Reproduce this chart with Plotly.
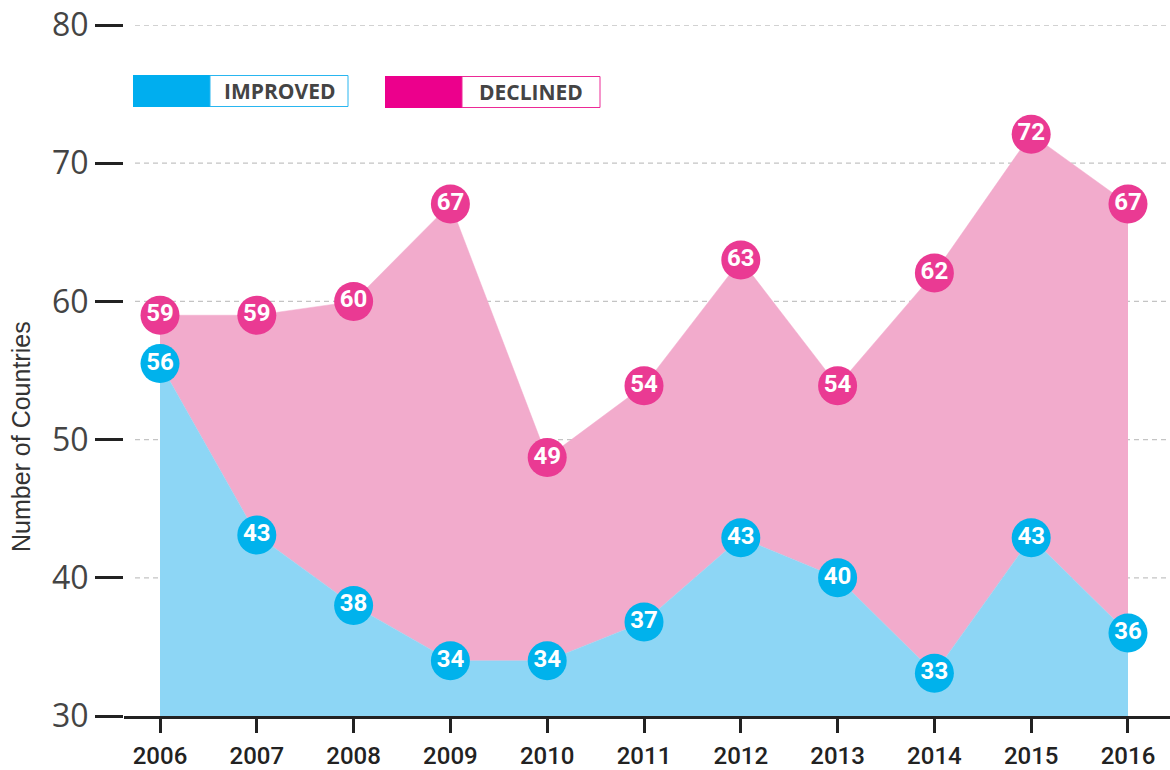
import plotly.graph_objects as go

years = [2006, 2007, 2008, 2009, 2010, 2011, 2012, 2013, 2014, 2015, 2016]
improved = [55.5, 43.1, 38, 34, 34, 36.8, 42.9, 40, 33.1, 42.9, 36]
declined = [59, 59, 60, 67.05, 48.7, 53.9, 63, 53.9, 62.06, 72.1, 67.05]
improved_labels = ["56", "43", "38", "34", "34", "37", "43", "40", "33", "43", "36"]
declined_labels = ["59", "59", "60", "67", "49", "54", "63", "54", "62", "72", "67"]
y_ticks = [30, 40, 50, 60, 70, 80]
series_names = ["IMPROVED", "DECLINED"]

W, H = 1170, 770
L, R, T, B = 124, 0, 25, 54
PW, PH = W - L - R, H - T - B


def px(x):
    return (x - L) / PW


def py(y):
    return (H - B - y) / PH


BLUE_FILL = "#8dd6f5"
PINK_FILL = "#f2abcc"
BLUE_MK = "#00b2ec"
PINK_MK = "#ea3a93"
BLUE_LEG = "#00aeef"
PINK_LEG = "#ec008c"

fig = go.Figure()
fig.add_trace(go.Scatter(x=years, y=improved, mode="lines", fill="tozeroy",
                         fillcolor=BLUE_FILL, line=dict(color=BLUE_FILL, width=0.5),
                         hoverinfo="skip", showlegend=False))
fig.add_trace(go.Scatter(x=years, y=declined, mode="lines", fill="tonexty",
                         fillcolor=PINK_FILL, line=dict(color=PINK_FILL, width=0.5),
                         hoverinfo="skip", showlegend=False))
fig.add_trace(go.Scatter(x=years, y=improved, mode="markers+text", text=improved_labels,
                         textposition="middle center",
                         textfont=dict(family="Roboto", size=24, color="white", weight="bold"),
                         marker=dict(size=39, color=BLUE_MK, line=dict(width=0)),
                         cliponaxis=False, showlegend=False, name=series_names[0]))
fig.add_trace(go.Scatter(x=years, y=declined, mode="markers+text", text=declined_labels,
                         textposition="middle center",
                         textfont=dict(family="Roboto", size=24, color="white", weight="bold"),
                         marker=dict(size=39, color=PINK_MK, line=dict(width=0)),
                         cliponaxis=False, showlegend=False, name=series_names[1]))

shapes = []
for t in y_ticks[1:]:
    shapes.append(dict(type="line", xref="paper", yref="y", x0=px(135), x1=1, y0=t, y1=t,
                       line=dict(color="#c4c4c4", width=1.3, dash="5px,4px"), layer="below"))

annotations = []
legend_items = [
    (series_names[0], 133, 210, 348, 75, 107, BLUE_LEG, "#29b6f0"),
    (series_names[1], 385, 462, 600, 76, 108, PINK_LEG, "#ec2a96"),
]
for name, xa, xb, xc, ya, yb, col, border in legend_items:
    shapes.append(dict(type="rect", xref="paper", yref="paper", x0=px(xa), x1=px(xb),
                       y0=py(yb), y1=py(ya), fillcolor=col, line=dict(width=0)))
    shapes.append(dict(type="rect", xref="paper", yref="paper", x0=px(xb), x1=px(xc),
                       y0=py(yb - 0.5), y1=py(ya + 0.5), fillcolor="white",
                       line=dict(color=border, width=1)))
    annotations.append(dict(text="<b>" + name + "</b>", xref="paper", yref="paper",
                            x=px((xb + xc) / 2), y=py((ya + yb) / 2), showarrow=False,
                            xanchor="center", yanchor="middle",
                            font=dict(family="Open Sans", size=21, color="#444444")))

annotations.append(dict(text="Number of Countries", xref="paper", yref="paper",
                        x=px(21), y=py(437), textangle=-90, showarrow=False,
                        xanchor="center", yanchor="middle",
                        font=dict(family="Liberation Sans", size=25, color="#333333")))

fig.update_layout(
    width=W, height=H,
    margin=dict(l=L, r=R, t=T, b=B, pad=0, autoexpand=False),
    plot_bgcolor="white", paper_bgcolor="white",
    shapes=shapes, annotations=annotations,
    xaxis=dict(range=[2005.628, 2016.434], tickvals=years, ticktext=[str(y) for y in years],
               showgrid=False, zeroline=False, showline=True, linecolor="#222222", linewidth=3,
               ticks="outside", ticklen=14, tickwidth=3, tickcolor="#222222", automargin=False,
               ticklabelstandoff=2,
               tickfont=dict(family="Roboto", size=24, color="#222222", weight=500)),
    yaxis=dict(range=[30, 80], tickvals=y_ticks, showgrid=False, zeroline=False,
               showline=False, ticks="outside", ticklen=28, tickwidth=3, tickcolor="#222222",
               ticklabelstandoff=0, automargin=False,
               tickfont=dict(family="Open Sans", size=32, color="#444444")),
    showlegend=False,
)

fig.write_html("out.html", config={"displayModeBar": False},
               post_script="document.body.style.margin='0';document.body.style.overflow='hidden';")
